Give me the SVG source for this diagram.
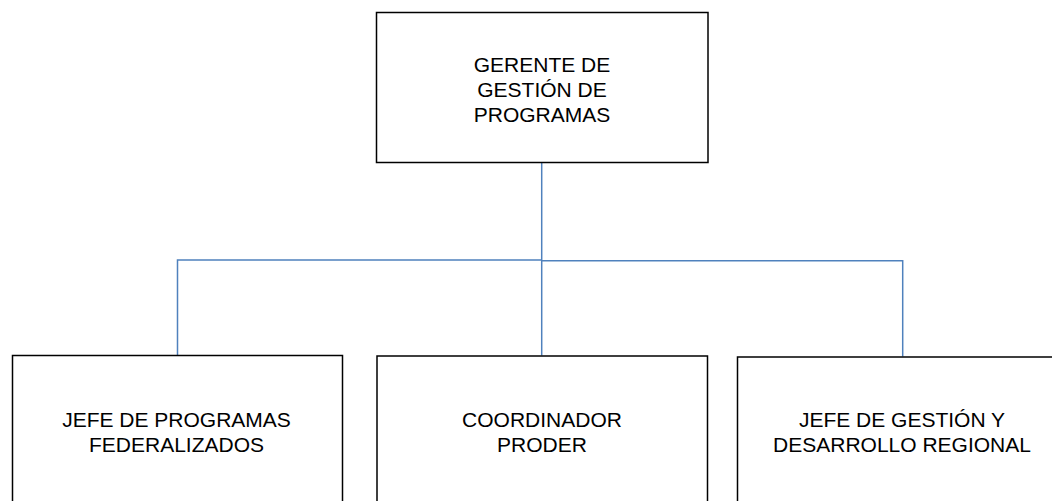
<svg xmlns="http://www.w3.org/2000/svg" width="1052" height="501" viewBox="0 0 1052 501">
<style>
.box{fill:#fff;stroke:#000;stroke-width:1.5}
.lbl{font-family:"Liberation Sans",Arial,sans-serif;font-size:21px;fill:#000;text-anchor:middle}
.con{fill:none;stroke:#4F81BD;stroke-width:1.5}
</style>
<rect width="1052" height="501" fill="#fff"/>
<g id="connectors">
<path class="con" d="M541.7,162.5 V355.5"/>
<path class="con" d="M177.5,355.5 V260 H541.7"/>
<path class="con" d="M541.7,260.7 H902.7 V356.5"/>
</g>
<g id="gerente">
<rect class="box" x="376.5" y="12.5" width="331.5" height="150"/>
<text class="lbl" x="542" y="72.3">GERENTE DE</text>
<text class="lbl" x="542" y="97">GESTIÓN DE</text>
<text class="lbl" x="542" y="121.8">PROGRAMAS</text>
</g>
<g id="jefe-programas">
<rect class="box" x="12.5" y="355.5" width="330" height="160"/>
<text class="lbl" x="176.5" y="427.3">JEFE DE PROGRAMAS</text>
<text class="lbl" x="176.5" y="452.3">FEDERALIZADOS</text>
</g>
<g id="coordinador">
<rect class="box" x="377" y="356" width="330.5" height="160"/>
<text class="lbl" x="542" y="427.3">COORDINADOR</text>
<text class="lbl" x="542" y="452.3">PRODER</text>
</g>
<g id="jefe-gestion">
<rect class="box" x="737.5" y="357" width="330" height="160"/>
<text class="lbl" x="902" y="427.3">JEFE DE GESTIÓN Y</text>
<text class="lbl" x="902" y="452.3">DESARROLLO REGIONAL</text>
</g>
</svg>
